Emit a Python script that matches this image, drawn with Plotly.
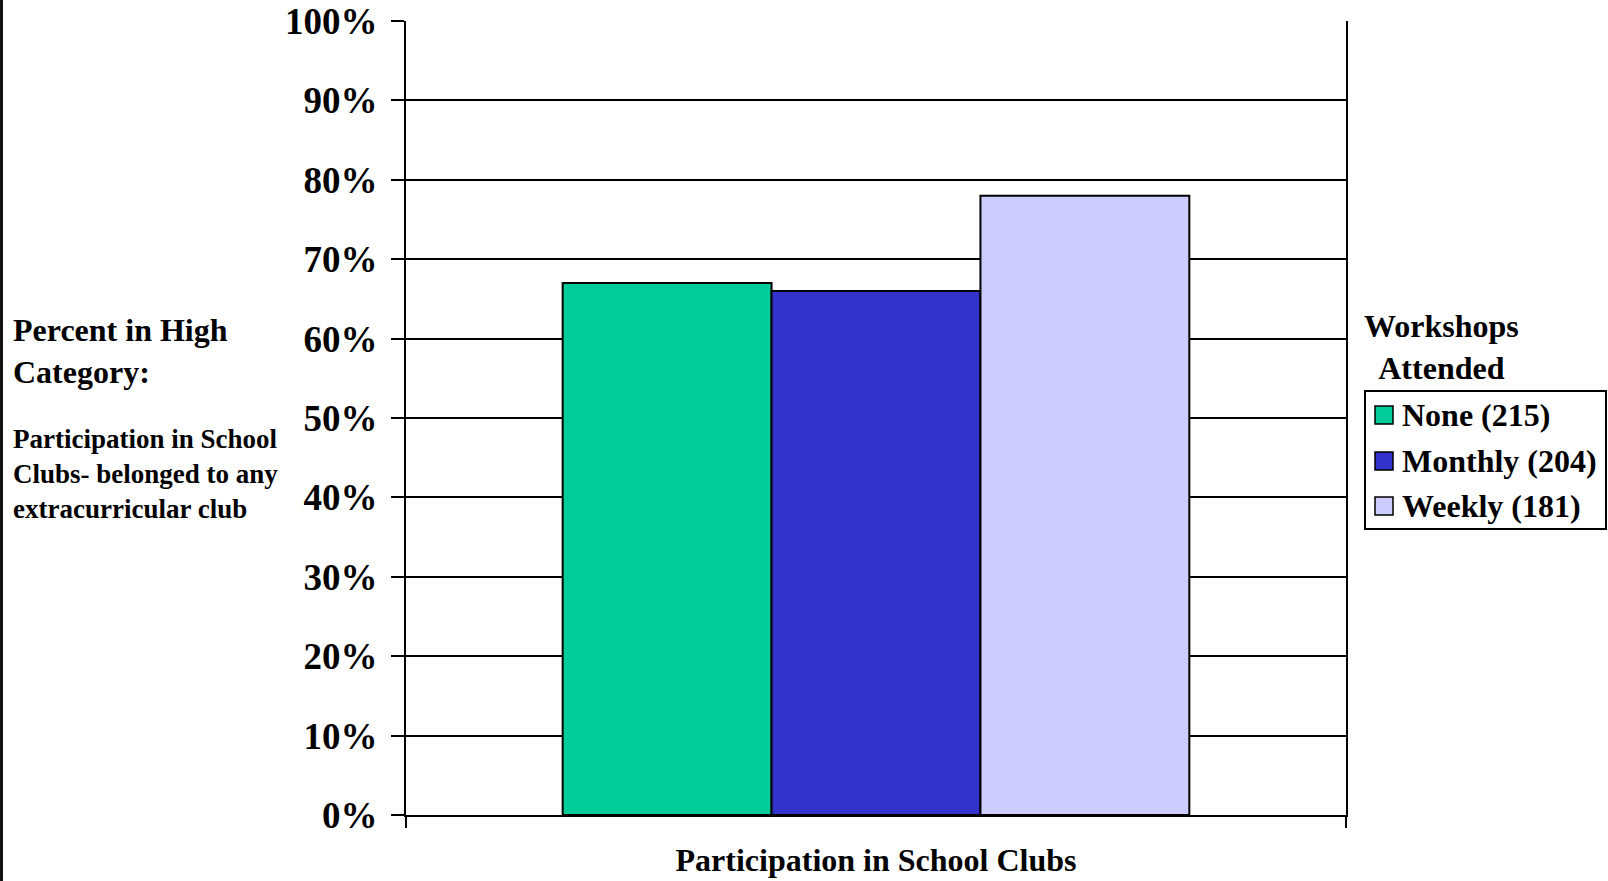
import plotly.graph_objects as go

# Data
category = ["Participation in School Clubs"]
groups = ["None (215)", "Monthly (204)", "Weekly (181)"]
values = [67, 66, 78]
colors = ["#00CC99", "#3333CC", "#CCCCFF"]
y_ticks = list(range(0, 101, 10))
y_labels = [f"{t}%" for t in y_ticks]

W, H = 1608, 881
L, R, T, B = 406, 1346, 21, 815  # plot-area edges in pixels

def px(x):
    return (x - L) / (R - L)

def py(y):
    return (B - y) / (B - T)

FONT = "Liberation Serif"

fig = go.Figure()
for name, v, c in zip(groups, values, colors):
    fig.add_trace(go.Bar(
        x=category, y=[v], name=name,
        marker=dict(color=c, line=dict(color="black", width=2)),
        showlegend=False,
    ))

fig.update_layout(
    width=W, height=H,
    margin=dict(l=L, r=W - R, t=T, b=H - B, pad=0),
    paper_bgcolor="white", plot_bgcolor="white",
    barmode="group", bargap=1 / 3, bargroupgap=0,
    font=dict(family=FONT, color="black"),
)

fig.update_yaxes(
    range=[0, 100], tickvals=y_ticks, ticktext=y_labels,
    showgrid=True, gridcolor="black", gridwidth=2,
    showline=True, linecolor="black", linewidth=2, mirror=True,
    ticks="outside", ticklen=13, tickwidth=2, tickcolor="black",
    tickfont=dict(family=FONT, size=37, color="black", weight="bold"),
    ticklabelstandoff=6, zeroline=False, automargin=False,
)
fig.update_xaxes(
    showline=True, linecolor="black", linewidth=2,
    ticks="outside", tickson="boundaries", ticklen=11, tickwidth=2, tickcolor="black",
    tickfont=dict(family=FONT, size=32, color="black", weight="bold"),
    ticklabelstandoff=16, automargin=False,
)

# Left-hand description of the measure
fig.add_annotation(
    text="Percent in High<br>Category:", xref="paper", yref="paper",
    x=px(11), y=py(351), xanchor="left", yanchor="middle", align="left",
    showarrow=False, font=dict(family=FONT, size=32, color="black", weight="bold"),
)
fig.add_annotation(
    text="Participation in School<br>Clubs- belonged to any<br>extracurricular club",
    xref="paper", yref="paper",
    x=px(11), y=py(474), xanchor="left", yanchor="middle", align="left",
    showarrow=False, font=dict(family=FONT, size=27, color="black", weight="bold"),
)

# Legend title
fig.add_annotation(
    text="Workshops<br>Attended", xref="paper", yref="paper",
    x=px(1441), y=py(347), xanchor="center", yanchor="middle", align="center",
    showarrow=False, font=dict(family=FONT, size=32, color="black", weight="bold"),
)

# Legend box
shapes = [
    dict(type="rect", xref="paper", yref="paper",
         x0=px(1365), x1=px(1606), y0=py(391), y1=py(529),
         line=dict(color="black", width=2), fillcolor="rgba(0,0,0,0)"),
    # left page border
    dict(type="line", xref="paper", yref="paper",
         x0=px(1.5), x1=px(1.5), y0=py(0), y1=py(H),
         line=dict(color="#111111", width=3)),
]
item_y = [415, 461, 506]
for name, c, yc in zip(groups, colors, item_y):
    shapes.append(dict(
        type="rect", xref="paper", yref="paper",
        x0=px(1375), x1=px(1393), y0=py(yc - 9), y1=py(yc + 9),
        line=dict(color="black", width=1.5), fillcolor=c,
    ))
    fig.add_annotation(
        text=name, xref="paper", yref="paper",
        x=px(1400), y=py(yc), xanchor="left", yanchor="middle",
        showarrow=False, font=dict(family=FONT, size=32, color="black", weight="bold"),
    )
fig.update_layout(shapes=shapes)

fig.write_html("out.html")
